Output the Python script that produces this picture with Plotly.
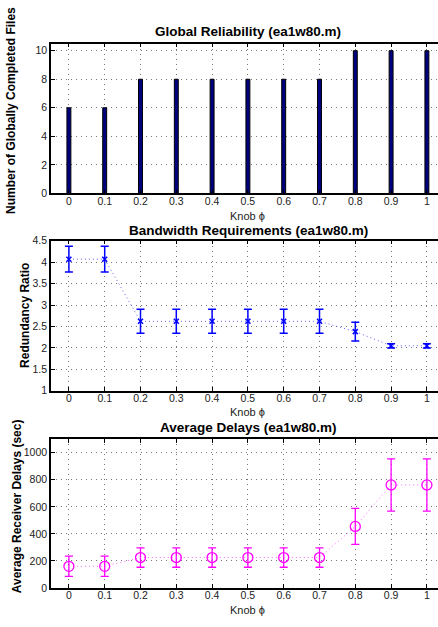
import plotly.graph_objects as go

knob = [0, 0.1, 0.2, 0.3, 0.4, 0.5, 0.6, 0.7, 0.8, 0.9, 1.0]
tick_labels = ["0", "0.1", "0.2", "0.3", "0.4", "0.5", "0.6", "0.7", "0.8", "0.9", "1"]
completed_files = [6, 6, 8, 8, 8, 8, 8, 8, 10, 10, 10]
redundancy = [4.07, 4.07, 2.62, 2.62, 2.62, 2.62, 2.62, 2.62, 2.38, 2.05, 2.05]
redundancy_err = [0.30, 0.30, 0.28, 0.28, 0.28, 0.28, 0.28, 0.28, 0.22, 0.05, 0.05]
delays = [160, 160, 225, 225, 225, 225, 225, 225, 455, 762, 762]
delays_err = [75, 75, 72, 72, 72, 72, 72, 72, 133, 193, 193]

W, H = 438, 627
FONT = "Liberation Sans, Arial, Helvetica, sans-serif"

def py(pix):
    return 1 - pix / H

x0, x1 = 51 / W, 1.0
panels = [(38.3, 191.0), (239.3, 392.3), (441.7, 593.3)]

fig = go.Figure()

fig.add_trace(go.Bar(x=knob, y=completed_files, width=0.011,
                     marker=dict(color="#00007f", line=dict(color="#000000", width=1)),
                     xaxis="x", yaxis="y"))
fig.add_trace(go.Scatter(x=knob, y=redundancy, mode="lines+markers",
                         line=dict(color="#6060ff", width=1, dash="1px,3px"),
                         marker=dict(symbol="x-thin-open", size=5, color="#0000ff",
                                     line=dict(color="#0000ff", width=1.5)),
                         error_y=dict(type="data", array=redundancy_err, color="#0000ff",
                                      thickness=1.5, width=4),
                         xaxis="x2", yaxis="y2"))
fig.add_trace(go.Scatter(x=knob, y=delays, mode="lines+markers",
                         line=dict(color="#ff66ff", width=1, dash="1px,3px"),
                         marker=dict(symbol="circle-open", size=10, color="#ff00ff",
                                     line=dict(color="#ff00ff", width=1.3)),
                         error_y=dict(type="data", array=delays_err, color="#ff00ff",
                                      thickness=1.3, width=4),
                         xaxis="x3", yaxis="y3"))

axis_common = dict(showline=True, linecolor="black", linewidth=1.5,
                   ticks="inside", ticklen=4, tickcolor="black",
                   showgrid=True, gridcolor="#777777", griddash="1px,4px", gridwidth=1,
                   zeroline=False, tickfont=dict(family=FONT, size=10.5, color="#222222"))

layout = dict(width=W, height=H, margin=dict(l=0, r=0, t=0, b=0),
              paper_bgcolor="white", plot_bgcolor="white", showlegend=False,
              font=dict(family=FONT, color="black"))

yranges = [[0, 10.5], [1, 4.5], [0, 1100]]
ytick = [dict(tickvals=[0, 2, 4, 6, 8, 10]),
         dict(tickvals=[1, 1.5, 2, 2.5, 3, 3.5, 4, 4.5], ticktext=["1", "1.5", "2", "2.5", "3", "3.5", "4", "4.5"]),
         dict(tickvals=[0, 200, 400, 600, 800, 1000])]
for i, (top, bot) in enumerate(panels):
    sfx = "" if i == 0 else str(i + 1)
    layout["xaxis" + sfx] = dict(axis_common, domain=[x0, x1], range=[-0.05, 1.031],
                                 tickvals=knob, ticktext=tick_labels, mirror="ticks",
                                 ticklabelstandoff=-3, anchor="y" + sfx)
    layout["yaxis" + sfx] = dict(axis_common, domain=[py(bot), py(top)], range=yranges[i],
                                 mirror=False, anchor="x" + sfx, **ytick[i])

fig.update_layout(**layout)

titles = [("Global Reliability (ea1w80.m)", 26.5),
          ("Bandwidth Requirements (ea1w80.m)", 228.5),
          ("Average Delays (ea1w80.m)", 429.5)]
for t, y in titles:
    fig.add_annotation(text="<b>%s</b>" % t, x=248 / W, y=py(y), xref="paper", yref="paper",
                       showarrow=False, font=dict(family=FONT, size=13.5, color="black"),
                       xanchor="center", yanchor="middle")

for y in [214, 414, 616]:
    fig.add_annotation(text="Knob ϕ", x=247 / W, y=py(y), xref="paper", yref="paper",
                       showarrow=False, font=dict(family=FONT, size=11, color="#222222"),
                       xanchor="center", yanchor="middle")

ylabels = [("Number of Globally Completed Files", 11, 107),
           ("Redundancy Ratio", 25, 316),
           ("Average Receiver Delays (sec)", 17, 510)]
for t, x, y in ylabels:
    fig.add_annotation(text="<b>%s</b>" % t, x=x / W, y=py(y), xref="paper", yref="paper",
                       showarrow=False, textangle=-90,
                       font=dict(family=FONT, size=12, color="black"),
                       xanchor="center", yanchor="middle")

fig.write_html("out.html")
